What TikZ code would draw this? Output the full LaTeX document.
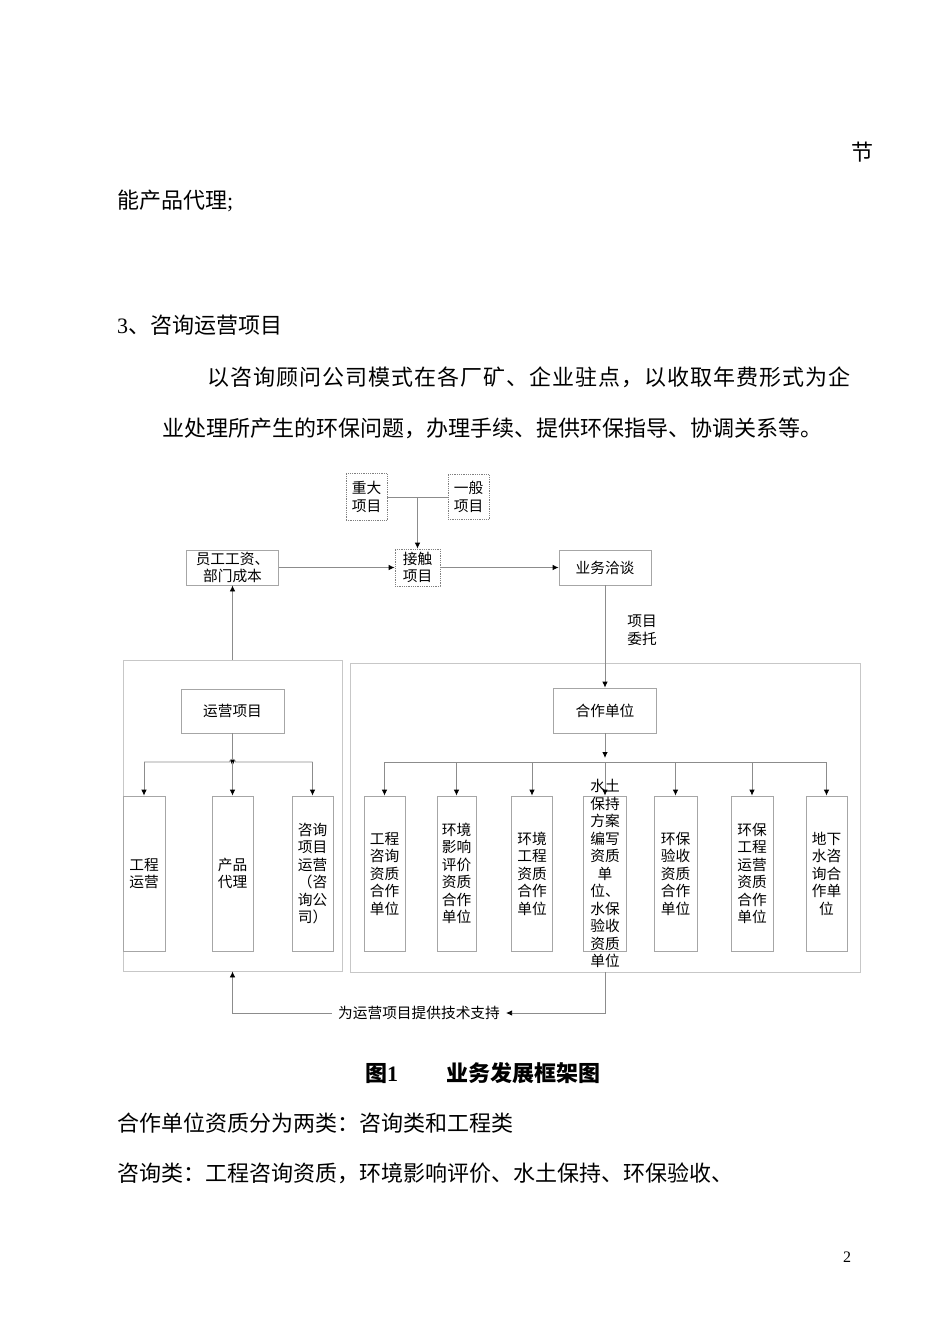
\documentclass[tikz,border=0pt]{standalone}
\usepackage{fontspec}
\setmainfont{Liberation Serif}
\newfontfamily\cjk{Noto Sans CJK SC}
\usetikzlibrary{arrows.meta, calc}
\newcommand{\diagfont}{\cjk\fontsize{14.7}{17.5}\selectfont}
\newcommand{\bodyfont}{\fontsize{22}{26}\selectfont}
\def\spreadchars#1{\ifx#1\relax\else#1\hfil\expandafter\spreadchars\fi}
\tikzstyle{box} = [rectangle, minimum width=92pt, minimum height=35pt, inner sep=1pt, align=center, draw=black!35, line width=0.8pt, font=\diagfont]
\tikzstyle{dotbox} = [box, draw=black!50, densely dotted, minimum width=41pt, minimum height=45pt]
\tikzstyle{tallbox} = [box, minimum width=41pt, minimum height=155pt]
\tikzstyle{panel} = [rectangle, draw=black!22, line width=0.8pt, inner sep=0pt]
\tikzstyle{link} = [draw=black!45, line width=0.8pt]
\tikzstyle{arrow} = [link, -{Latex[length=6pt, width=5.5pt, color=black]}]
\tikzstyle{txt} = [inner sep=0pt, anchor=west, font=\bodyfont]

\begin{document}
\begin{tikzpicture}[x=1pt, y=-1pt]
    \useasboundingbox (0,0) rectangle (950,1344);

    \node (t1) [txt, anchor=center] at (862,152) {\cjk 节};
    \node (t2) [txt] at (117,201) {{\cjk 能产品代理};};
    \node (t3) [txt] at (117,325) {3{\cjk 、咨询运营项目}};
    \node (t4) [txt] at (207,377) {\cjk\hbox to 643pt{\spreadchars 以咨询顾问公司模式在各厂矿、企业驻点，以收取年费形式为企\relax\hskip 0pt plus -1fil}};
    \node (t5) [txt] at (162,428) {\cjk 业处理所产生的环保问题，办理手续、提供环保指导、协调关系等。};

    \node (1) [dotbox, minimum height=47pt] at (366.5,497) {重大\\项目};
    \node (2) [dotbox] at (468.5,497) {一般\\项目};
    \node (3) [box] at (232.5,567.5) {员工工资、\\部门成本};
    \node (4) [dotbox, minimum width=45pt, minimum height=37pt] at (417.5,567.5) {接触\\项目};
    \node (5) [box] at (605,567.5) {业务洽谈};

    \node (6) [panel, minimum width=219pt, minimum height=311pt] at (232.5,815.5) {};
    \node (7) [panel, minimum width=510pt, minimum height=309pt] at (605,817.5) {};
    \node (8) [box, minimum width=103pt, minimum height=44pt] at (232.5,711) {运营项目};
    \node (9) [box, minimum width=103pt, minimum height=45pt] at (605,710.5) {合作单位};

    \node (10) [tallbox, minimum width=42pt] at (144,873.5) {工程\\运营};
    \node (11) [tallbox] at (232.5,873.5) {产品\\代理};
    \node (12) [tallbox] at (312.5,873.5) {咨询\\项目\\运营\\（咨\\询公\\司）};
    \node (13) [tallbox] at (384.5,873.5) {工程\\咨询\\资质\\合作\\单位};
    \node (14) [tallbox, minimum width=39pt] at (456.5,873.5) {环境\\影响\\评价\\资质\\合作\\单位};
    \node (15) [tallbox] at (532,873.5) {环境\\工程\\资质\\合作\\单位};
    \node (16) [tallbox, minimum width=43pt] at (605,873.5) {};
    \node (17) [tallbox, minimum width=43pt] at (675.5,873.5) {环保\\验收\\资质\\合作\\单位};
    \node (18) [tallbox, minimum width=42pt] at (752,873.5) {环保\\工程\\运营\\资质\\合作\\单位};
    \node (19) [tallbox] at (826.5,873.5) {地下\\水咨\\询合\\作单\\位};
    \node (20) [font=\diagfont, align=center, inner sep=0pt] at (16) {水土\\保持\\方案\\编写\\资质\\单\\位、\\水保\\验收\\资质\\单位};
    \node (21) [font=\diagfont, inner xsep=6pt, inner ysep=0pt] at (419,1013) {为运营项目提供技术支持};

    \draw [link] (1) -- (2);
    \coordinate (j) at ($(1.east)!0.5!(2.west)$);
    \draw [arrow] (j) -- (j |- 4.north);
    \draw [arrow] (3) -- (4);
    \draw [arrow] (4) -- (5);
    \draw [arrow] (6.north) -- (3.south);
    \draw [arrow] (5) -- node (22) [pos=0.44, right, xshift=22pt, inner sep=0pt, font=\diagfont, align=left] {项目\\委托} (9);

    \coordinate (h1) at (232.5,762);
    \draw [arrow] (8) -- ($(h1)+(0,4)$);
    \draw [link] (10.north |- h1) -- ($(h1)+(-3,0)$) arc[start angle=180, end angle=0, radius=3pt] -- (12.north |- h1);
    \draw [arrow] (10.north |- h1) -- (10.north);
    \draw [arrow] (h1) -- (11.north);
    \draw [arrow] (12.north |- h1) -- (12.north);

    \coordinate (h2) at (605,762);
    \draw [arrow] (9) -- ($(h2)+(0,-4)$);
    \draw [link] (13.north |- h2) -- (19.north |- h2);
    \draw [arrow] (13.north |- h2) -- (13.north);
    \draw [arrow] (14.north |- h2) -- (14.north);
    \draw [arrow] (15.north |- h2) -- (15.north);
    \draw [arrow] (h2) -- (16.north);
    \draw [arrow] (17.north |- h2) -- (17.north);
    \draw [arrow] (18.north |- h2) -- (18.north);
    \draw [arrow] (19.north |- h2) -- (19.north);

    \draw [arrow] (7.south) |- (21.east);
    \draw [arrow] (21.west) -| (6.south);

    \node (cap) [txt, font=\bodyfont\bfseries] at (365,1073) {{\cjk 图}1\hspace{48pt}{\cjk 业务发展框架图}};
    \node (t6) [txt] at (117,1123) {\cjk 合作单位资质分为两类：咨询类和工程类};
    \node (t7) [txt] at (117,1173) {\cjk 咨询类：工程咨询资质，环境影响评价、水土保持、环保验收、};
    \node (pg) [font=\fontsize{16}{18}\selectfont] at (847,1257) {2};
\end{tikzpicture}
\end{document}
